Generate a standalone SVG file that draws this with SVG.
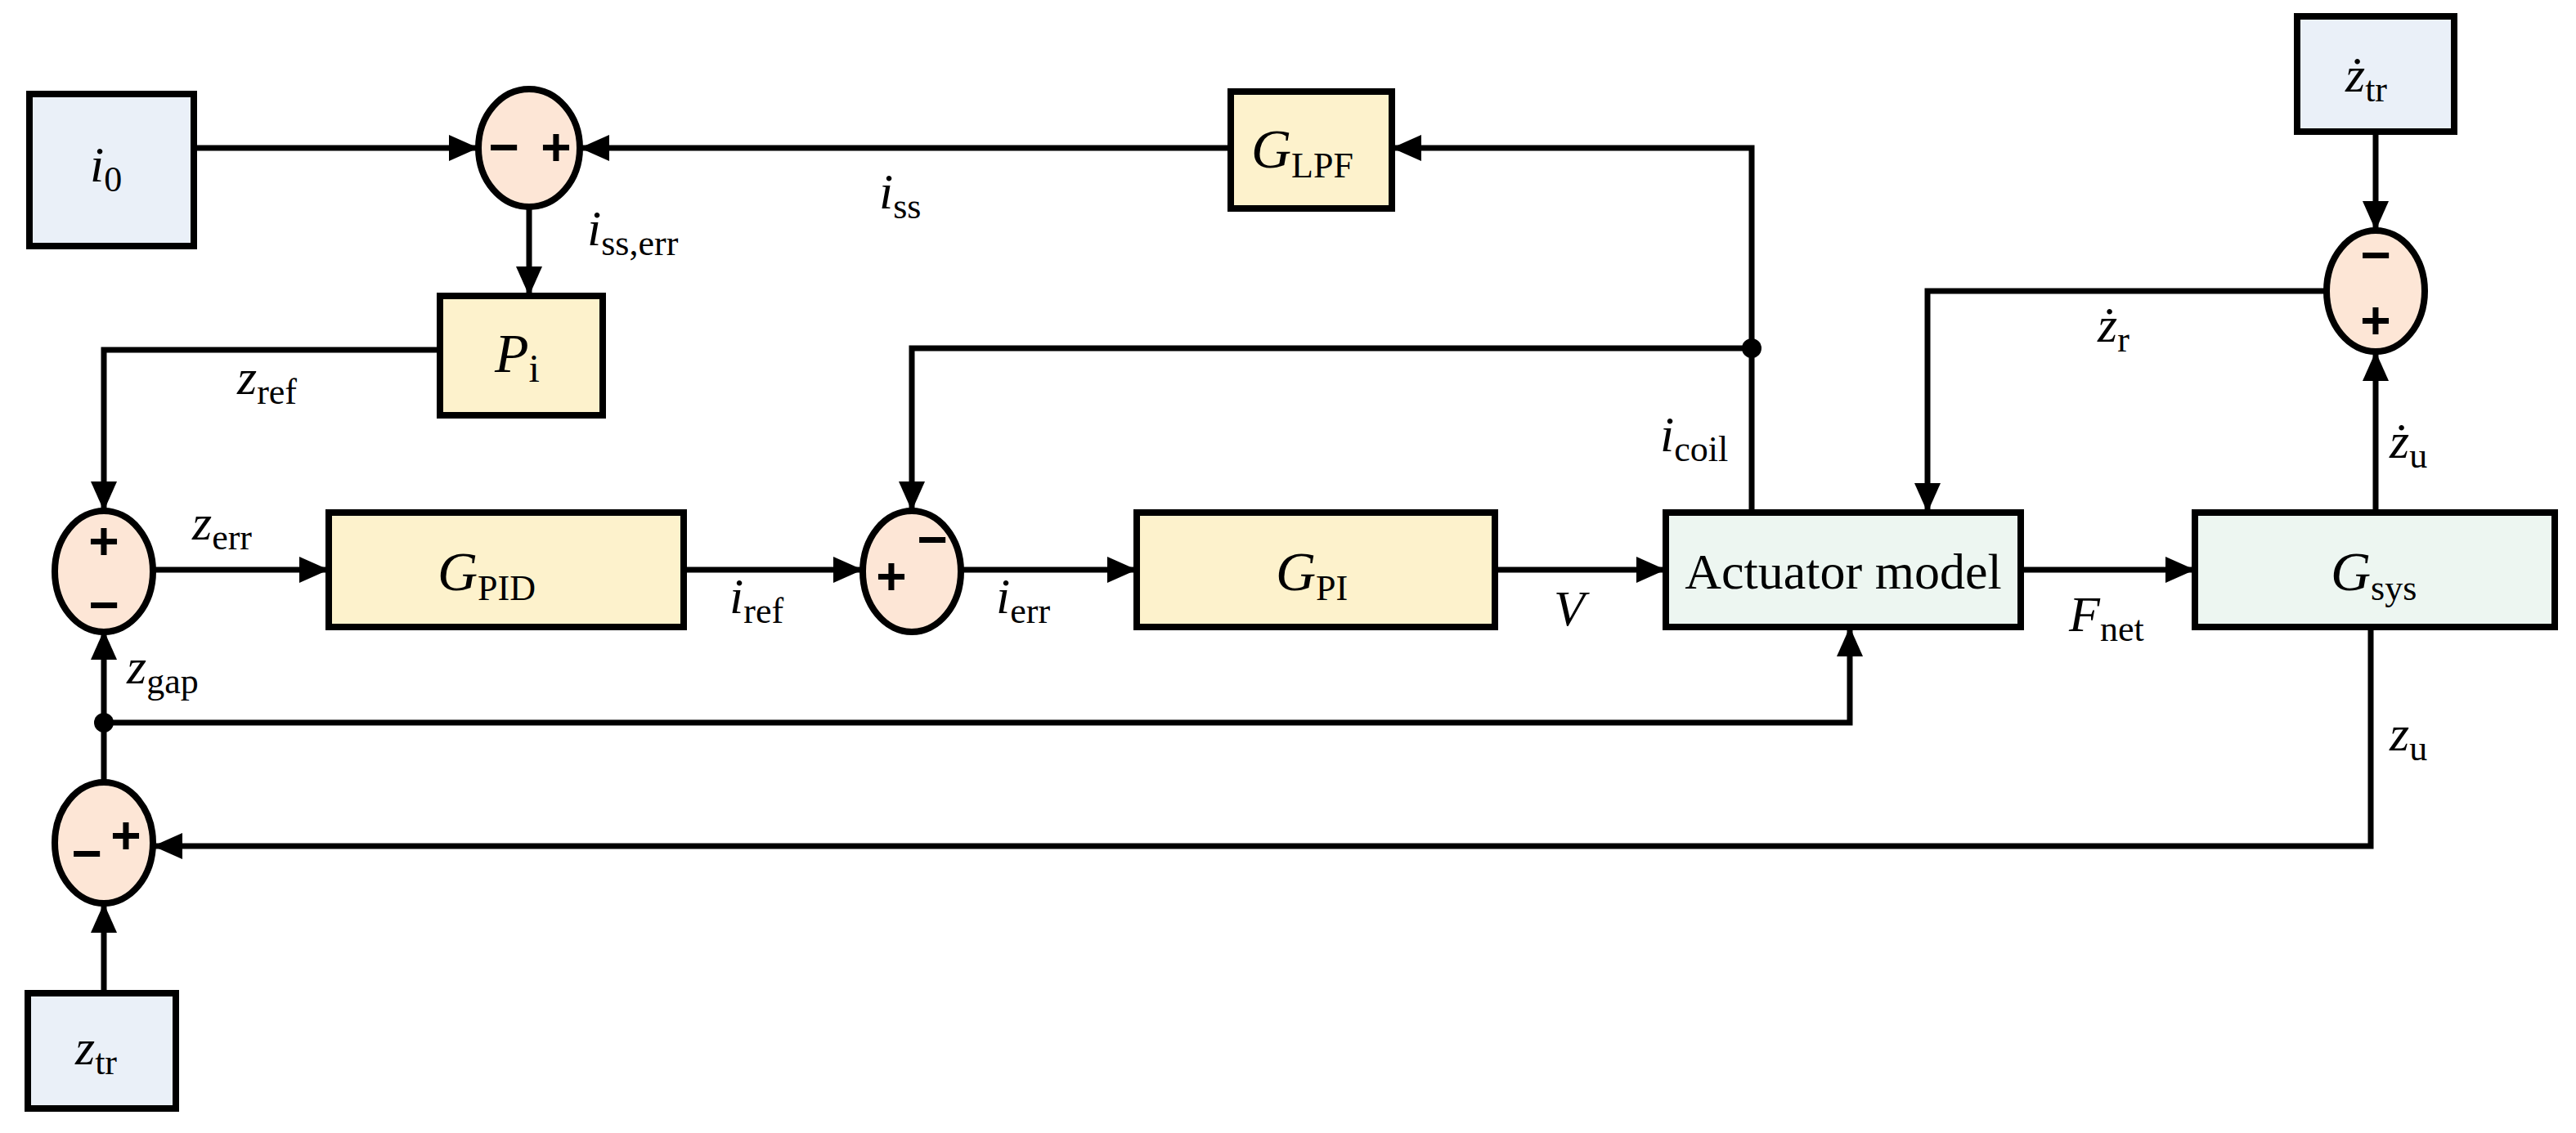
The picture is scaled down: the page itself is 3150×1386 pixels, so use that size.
<svg xmlns="http://www.w3.org/2000/svg" width="3150" height="1386" viewBox="0 0 3150 1386">
<style>
.bb{fill:#eaf0f8;stroke:#000;stroke-width:8}
.yb{fill:#fdf2cc;stroke:#000;stroke-width:8}
.gb{fill:#edf6f1;stroke:#000;stroke-width:8}
.sm{fill:#fde6d6;stroke:#000;stroke-width:8}
.ln{fill:none;stroke:#000;stroke-width:7}
text{font-family:"Liberation Serif","Times New Roman",serif;fill:#000}
.v{font-style:italic;font-size:62px}
.s{font-style:normal;font-size:44px}
.bt{font-size:62px}
.sg{font-size:64px;font-weight:bold;font-family:"Liberation Sans",Arial,sans-serif;text-anchor:middle}
</style>
<defs>
<marker id="a" markerUnits="userSpaceOnUse" markerWidth="36" markerHeight="32" refX="34" refY="16" orient="auto"><path d="M0,0 L36,16 L0,32 z" fill="#000"/></marker>
</defs>
<rect width="3150" height="1386" fill="#fff"/>
<g id="connectors">
<path class="ln" d="M237,181 H583" marker-end="url(#a)"/>
<path class="ln" d="M1505,181 H711" marker-end="url(#a)"/>
<path class="ln" d="M2142,627 V181 H1704" marker-end="url(#a)"/>
<path class="ln" d="M647,253 V360" marker-end="url(#a)"/>
<path class="ln" d="M538,428 H127 V623" marker-end="url(#a)"/>
<path class="ln" d="M187,697 H400" marker-end="url(#a)"/>
<path class="ln" d="M836,697 H1053" marker-end="url(#a)"/>
<path class="ln" d="M2142,426 H1115 V623" marker-end="url(#a)"/>
<path class="ln" d="M1175,697 H1388" marker-end="url(#a)"/>
<path class="ln" d="M1828,697 H2035" marker-end="url(#a)"/>
<path class="ln" d="M2471,697 H2682" marker-end="url(#a)"/>
<path class="ln" d="M2905,161 V280" marker-end="url(#a)"/>
<path class="ln" d="M2905,627 V432" marker-end="url(#a)"/>
<path class="ln" d="M2845,356 H2357 V625" marker-end="url(#a)"/>
<path class="ln" d="M127,957 V773" marker-end="url(#a)"/>
<path class="ln" d="M127,884 H2262 V769" marker-end="url(#a)"/>
<path class="ln" d="M2899,767 V1035 H189" marker-end="url(#a)"/>
<path class="ln" d="M127,1215 V1107" marker-end="url(#a)"/>
<circle cx="2142" cy="426" r="12" fill="#000"/>
<circle cx="127" cy="884" r="12" fill="#000"/>
<text x="1075" y="255" class="v">i<tspan class="s" dy="12">ss</tspan></text>
<text x="718" y="300" class="v">i<tspan class="s" dy="12">ss,err</tspan></text>
<text x="290" y="482" class="v">z<tspan class="s" dy="12">ref</tspan></text>
<text x="235" y="660" class="v">z<tspan class="s" dy="12">err</tspan></text>
<text x="892" y="750" class="v">i<tspan class="s" dy="12">ref</tspan></text>
<text x="1218" y="750" class="v">i<tspan class="s" dy="12">err</tspan></text>
<text x="1900" y="765" class="v">V</text>
<text x="2030" y="552" class="v">i<tspan class="s" dy="12">coil</tspan></text>
<text x="2530" y="772" class="v">F<tspan class="s" dy="12">net</tspan></text>
<text x="2565" y="418" class="v">ż<tspan class="s" dy="12">r</tspan></text>
<text x="2922" y="560" class="v">ż<tspan class="s" dy="12">u</tspan></text>
<text x="2922" y="918" class="v">z<tspan class="s" dy="12">u</tspan></text>
<text x="155" y="836" class="v">z<tspan class="s" dy="12">gap</tspan></text>
</g>
<g id="i0"><rect class="bb" x="36" y="115" width="201" height="186"/><text x="110" y="222" class="v">i<tspan class="s" dy="12">0</tspan></text></g>
<g id="sum1"><ellipse class="sm" cx="647" cy="181" rx="62" ry="72"/><text class="sg" x="616" y="202">−</text><text class="sg" x="680" y="202">+</text></g>
<g id="glpf"><rect class="yb" x="1505" y="112" width="197" height="143"/><text x="1530" y="205" class="v" style="font-size:68px">G<tspan class="s" dy="12">LPF</tspan></text></g>
<g id="pi"><rect class="yb" x="538" y="362" width="199" height="146"/><text x="605" y="455" class="v" style="font-size:68px">P<tspan class="s" dy="12" style="font-size:48px">i</tspan></text></g>
<g id="sum2"><ellipse class="sm" cx="127" cy="699" rx="60" ry="74"/><text class="sg" x="127" y="684">+</text><text class="sg" x="127" y="762">−</text></g>
<g id="gpid"><rect class="yb" x="402" y="627" width="434" height="140"/><text x="535" y="722" class="v" style="font-size:68px">G<tspan class="s" dy="12">PID</tspan></text></g>
<g id="sum3"><ellipse class="sm" cx="1115" cy="699" rx="60" ry="74"/><text class="sg" x="1090" y="727">+</text><text class="sg" x="1140" y="682">−</text></g>
<g id="gpi"><rect class="yb" x="1390" y="627" width="438" height="140"/><text x="1560" y="722" class="v" style="font-size:68px">G<tspan class="s" dy="12">PI</tspan></text></g>
<g id="actuator"><rect class="gb" x="2037" y="627" width="434" height="140"/><text x="2254" y="720" class="bt" text-anchor="middle">Actuator model</text></g>
<g id="gsys"><rect class="gb" x="2684" y="627" width="440" height="140"/><text x="2850" y="722" class="v" style="font-size:68px">G<tspan class="s" dy="12">sys</tspan></text></g>
<g id="ztrdot"><rect class="bb" x="2809" y="20" width="192" height="141"/><text x="2868" y="112" class="v">ż<tspan class="s" dy="12">tr</tspan></text></g>
<g id="sum4"><ellipse class="sm" cx="2905" cy="356" rx="60" ry="74"/><text class="sg" x="2905" y="334">−</text><text class="sg" x="2905" y="414">+</text></g>
<g id="sum5"><ellipse class="sm" cx="127" cy="1031" rx="60" ry="74"/><text class="sg" x="106" y="1066">−</text><text class="sg" x="154" y="1044">+</text></g>
<g id="ztr"><rect class="bb" x="34" y="1215" width="181" height="141"/><text x="92" y="1302" class="v">z<tspan class="s" dy="12">tr</tspan></text></g>
</svg>
